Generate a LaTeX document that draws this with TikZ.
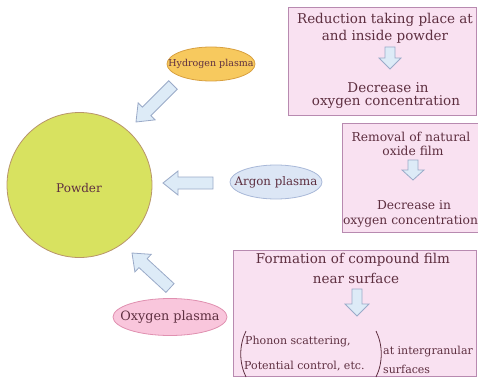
\documentclass[tikz,border=0pt]{standalone}
\usepackage{fontspec}
\setmainfont{DejaVu Serif}
\usetikzlibrary{calc,shapes.geometric}
\definecolor{txt}{HTML}{5E2F40}
\definecolor{powfill}{HTML}{D8E260}
\definecolor{powline}{HTML}{B8956A}
\definecolor{hydfill}{HTML}{F7C95E}
\definecolor{hydline}{HTML}{D8A040}
\definecolor{argfill}{HTML}{DCE6F5}
\definecolor{argline}{HTML}{A8B8D8}
\definecolor{oxyfill}{HTML}{F9C6DC}
\definecolor{oxyline}{HTML}{E090B0}
\definecolor{boxfill}{HTML}{F9E1F1}
\definecolor{boxline}{HTML}{B88AB0}
\definecolor{arrfill}{HTML}{DDEBF7}
\definecolor{arrline}{HTML}{9AAAC8}
\tikzset{
  every node/.style={text=txt},
  plasma/.style={ellipse, draw, line width=0.8pt, inner xsep=-14pt, inner ysep=0pt, font=\fontsize{9.5}{11}\selectfont},
  infobox/.style={draw=boxline, fill=boxfill, line width=1pt},
  boxtext/.style={font=\fontsize{13.5}{15}\selectfont, inner sep=0pt},
  boxtexttwo/.style={font=\fontsize{12.3}{14}\selectfont, inner sep=0pt},
  smalltext/.style={font=\fontsize{11}{13}\selectfont, inner sep=0pt, anchor=west},
  blockarrow/.style={draw=arrline, fill=arrfill, line width=0.8pt, line join=miter},
}
\newcommand{\blockarr}[5]{% from, to, shaft half width, head half width, head length
  \path let \p1=(#1), \p2=(#2), \n1={atan2(\y2-\y1,\x2-\x1)}, \n2={veclen(\x2-\x1,\y2-\y1)} in
    [blockarrow] (\p1) -- ++(\n1+90:#3pt) -- ++(\n1:{\n2-#5pt}) -- ++(\n1+90:{#4pt-#3pt})
    -- (\p2) -- ($(\p1)+(\n1:{\n2-#5pt})+(\n1-90:#4pt)$) -- ++(\n1+90:{#4pt-#3pt}) -- ($(\p1)+(\n1-90:#3pt)$) -- cycle;
}
\begin{document}
\begin{tikzpicture}[x=1pt,y=-1pt]
\useasboundingbox (0,0) rectangle (478,377);
% powder
\node[circle, draw=powline, fill=powfill, line width=0.8pt, minimum size=145pt, inner sep=0pt] (powder) at (79.5,185) {};
\node[font=\fontsize{12}{14}\selectfont] (powlabel) at (79,188) {Powder};
% plasmas
\node[plasma, draw=hydline, fill=hydfill, minimum width=88pt, minimum height=34pt] (hyd) at (211,64) {Hydrogen plasma};
\node[plasma, draw=argline, fill=argfill, minimum width=92pt, minimum height=34pt, font=\fontsize{11.8}{13}\selectfont] (arg) at (276,182) {Argon plasma};
\node[plasma, draw=oxyline, fill=oxyfill, minimum width=114pt, minimum height=37pt, font=\fontsize{12.8}{14}\selectfont] (oxy) at (170,317) {Oxygen plasma};
% boxes
\draw[infobox] (288,8) rectangle (476,115);
\node (box1) at (382,61) {};
\draw[infobox] (342,123) rectangle (480,232);
\node (box2) at (411,178) {};
\draw[infobox] (233,250) rectangle (476,376);
\node (box3) at (355,313) {};
% box 1 text
\node[boxtext] (b1a) at (385,20) {Reduction taking place at};
\node[boxtext] (b1b) at (385,37) {and inside powder};
\node[boxtext] (b1c) at (388,88) {Decrease in};
\node[boxtext] (b1d) at (386,102.5) {oxygen concentration};
% box 2 text
\node[boxtexttwo] (b2a) at (411,137) {Removal of natural};
\node[boxtexttwo] (b2b) at (413,151) {oxide film};
\node[boxtexttwo] (b2c) at (414,205) {Decrease in};
\node[boxtexttwo] (b2d) at (410.5,221) {oxygen concentration};
% box 3 text
\node[boxtext] (b3a) at (353,260) {Formation of compound film};
\node[boxtext] (b3b) at (356,278) {near surface};
\node[smalltext] (b3c) at (245,342) {Phonon scattering,};
\node[smalltext] (b3d) at (244,366) {Potential control, etc.};
\node[smalltext] (b3e) at (383,352) {at intergranular};
\node[smalltext] (b3f) at (383,369) {surfaces};
\draw[txt, line width=0.8pt] (246,331) .. controls (239,345) and (239,363) .. (246,377);
\draw[txt, line width=0.8pt] (376,331) .. controls (383,345) and (383,363) .. (376,377);
% inner arrows
\coordinate (i1s) at (390,47); \coordinate (i1e) at (390,69);
\coordinate (i2s) at (413,160); \coordinate (i2e) at (413,180);
\coordinate (i3s) at (357,289); \coordinate (i3e) at (357,316);
\blockarr{i1s}{i1e}{5}{11}{11}
\blockarr{i2s}{i2e}{5}{11}{10}
\blockarr{i3s}{i3e}{5}{12}{12}
% main arrows
\coordinate (ah1) at (173,85); \coordinate (ah2) at (136,122);
\coordinate (aa1) at (213,183); \coordinate (aa2) at (163,183);
\coordinate (ao1) at (170,288); \coordinate (ao2) at (132,253);
\blockarr{ah1}{ah2}{6}{12}{15}
\blockarr{aa1}{aa2}{6}{12}{15}
\blockarr{ao1}{ao2}{6}{12}{15}
\end{tikzpicture}
\end{document}
